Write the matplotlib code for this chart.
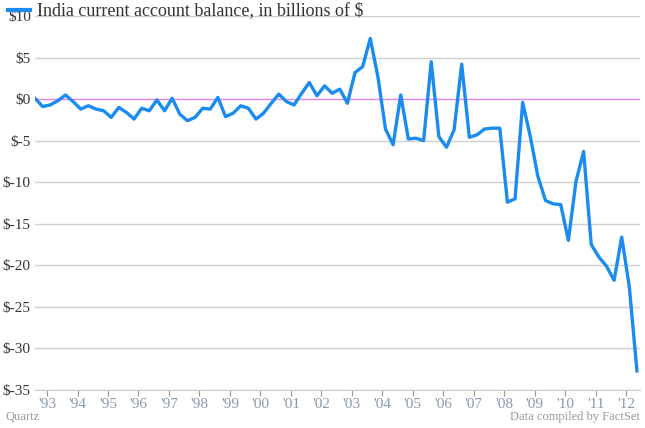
import matplotlib
matplotlib.use("Agg")
import matplotlib.pyplot as plt

values = [0.1,-0.9,-0.7,-0.2,0.5,-0.3,-1.2,-0.8,-1.2,-1.4,-2.2,-1.0,-1.6,-2.4,-1.1,-1.4,-0.1,-1.4,0.1,-1.8,
          -2.6,-2.2,-1.1,-1.2,0.2,-2.1,-1.7,-0.8,-1.1,-2.4,-1.7,-0.5,0.6,-0.3,-0.7,0.7,2.0,0.4,1.6,0.7,
          1.2,-0.5,3.2,3.9,7.3,2.7,-3.6,-5.5,0.5,-4.8,-4.7,-5.0,4.5,-4.5,-5.8,-3.7,4.2,-4.6,-4.3,-3.6,
          -3.5,-3.5,-12.4,-12.0,-0.4,-4.5,-9.3,-12.2,-12.6,-12.7,-17.0,-9.9,-6.3,-17.5,-19.0,-20.1,-21.8,-16.6,-22.6,-32.7]
year_labels = ["'93","'94","'95","'96","'97","'98","'99","'00","'01","'02","'03","'04","'05","'06","'07","'08","'09","'10","'11","'12"]
y_ticks = [10,5,0,-5,-10,-15,-20,-25,-30,-35]

SERIF = "Liberation Serif"
fig = plt.figure(figsize=(6.45,4.28), dpi=100)
ax = fig.add_axes([35/645, 1-390/428, 605/645, 374/428])
x = list(range(len(values)))
for t in y_ticks:
    if t != 0:
        ax.axhline(t, color="#d0d0d0", lw=1, zorder=1)
ax.axhline(0, color="#f080f0", lw=1, zorder=1)
ax.plot(x, values, color="#1a8cf0", lw=2.4, zorder=3)
ax.set_xlim(0, 79.4)
ax.set_ylim(-35, 10)
ax.set_yticks(y_ticks)
ax.set_yticklabels([f"${t}" for t in y_ticks], fontfamily=SERIF, fontsize=11, color="#333333")
ax.set_xticks([1.58 + 4*i for i in range(len(year_labels))])
ax.set_xticklabels(year_labels, fontfamily=SERIF, fontsize=11, color="#8899aa")
for s in ax.spines.values():
    s.set_visible(False)
ax.tick_params(axis="y", length=0, pad=3)
ax.tick_params(axis="x", length=4, color="#999999", pad=2)
ax.spines["bottom"].set_visible(True)
ax.spines["bottom"].set_color("#cccccc")
fig.lines.append(plt.Line2D([8/645, 30/645], [1-10/428]*2, color="#1a8cf0", lw=3, transform=fig.transFigure))
fig.text(37/645, 1-11/428, "India current account balance, in billions of $", fontfamily=SERIF,
         fontsize=13, va="center", color="#333333")
fig.text(6/645, 1-417/428, "Quartz", fontfamily=SERIF, fontsize=9, color="#999999", va="center")
fig.text(640/645, 1-417/428, "Data compiled by FactSet", fontfamily=SERIF, fontsize=9, color="#999999", va="center", ha="right")
fig.savefig("out.png", dpi=100)
